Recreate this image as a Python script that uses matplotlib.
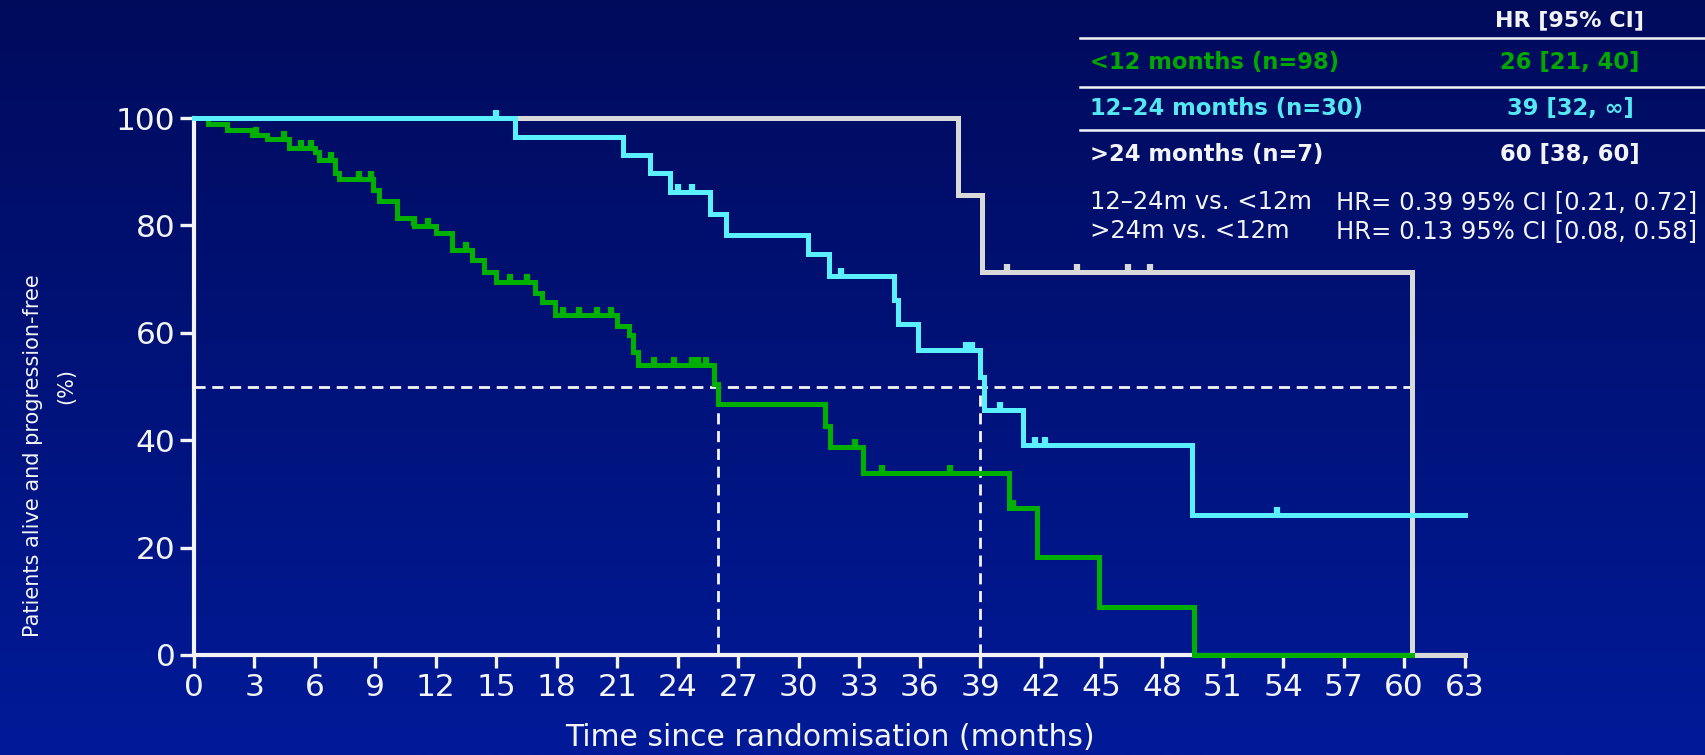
import numpy as np
import matplotlib
matplotlib.use("Agg")
import matplotlib.pyplot as plt
from matplotlib.lines import Line2D
from matplotlib.colors import LinearSegmentedColormap

# Kaplan-Meier steps: event times (months) and survival (%) after each step
lt12_times = [0, 0.72, 1.63, 2.87, 3.65, 4.7, 6.0, 6.2, 7.0, 7.2, 8.9, 9.2, 10.1, 10.9,
              12.0, 12.8, 13.8, 14.4, 15.0, 16.9, 17.25, 17.9, 21.0, 21.6, 21.8, 22.0,
              25.8, 26.0, 31.27, 31.55, 33.2, 40.4, 41.8, 44.9, 49.6]
lt12_surv = [100, 98.8, 97.7, 96.9, 96.1, 94.4, 93.6, 92.2, 89.8, 88.6, 86.6, 84.5, 81.4, 79.8,
             78.6, 75.5, 73.6, 71.4, 69.4, 67.4, 65.8, 63.4, 61.2, 59.6, 56.5, 54.0,
             50.5, 46.7, 42.7, 38.8, 33.8, 27.3, 18.2, 9.0, 0]
lt12_end = 60.4
lt12_cens = [3.1, 4.5, 5.3, 5.8, 6.8, 8.2, 8.8, 10.9, 11.6, 13.5, 15.7, 16.5, 18.3, 19.1,
             20.0, 20.7, 22.8, 23.8, 24.7, 25.0, 25.4, 32.8, 34.1, 37.5, 40.6]

mid_times = [0, 15.94, 21.3, 22.6, 23.6, 25.6, 26.4, 30.46, 31.5, 34.7, 34.9, 35.9,
             39.0, 39.2, 41.1, 49.5]
mid_surv = [100, 96.5, 93.1, 89.7, 86.2, 82.1, 78.2, 74.6, 70.6, 66.2, 61.7, 56.8,
            51.8, 45.6, 39.1, 26.1]
mid_end = 63
mid_cens = [15.0, 24.0, 24.7, 32.1, 38.3, 38.6, 39.95, 41.7, 42.2, 53.7]

gt24_times = [0, 37.9, 39.1, 60.4]
gt24_surv = [100, 85.7, 71.4, 0]
gt24_end = 63
gt24_cens = [40.3, 43.8, 46.3, 47.4]

medians = [26, 39, 60.4]

row_labels = ["<12 months (n=98)", "12\u201324 months (n=30)", ">24 months (n=7)"]
row_values = ["26 [21, 40]", "39 [32, \u221e]", "60 [38, 60]"]
hr_left = ["12\u201324m vs. <12m", ">24m vs. <12m"]
hr_right = ["HR= 0.39 95% CI [0.21, 0.72]", "HR= 0.13 95% CI [0.08, 0.58]"]

GREEN = "#00b000"
CYAN = "#5af0ff"
GREY = "#d9d9d9"
WHITE = "#f4f4f8"

W, H = 1706, 755
fig = plt.figure(figsize=(W / 100, H / 100), dpi=100)

# navy gradient background
bg = fig.add_axes([0, 0, 1, 1], zorder=-10)
cmap = LinearSegmentedColormap.from_list("navy", ["#000b5c", "#001a98"])
bg.imshow(np.linspace(0, 1, 256)[:, None], aspect="auto", cmap=cmap,
          extent=[0, 1, 0, 1], origin="upper")
bg.axis("off")

ax = fig.add_axes([193.7 / W, 1 - 655 / H, (1464.6 - 193.7) / W, (655 - 118) / H])
ax.set_facecolor("none")
ax.set_xlim(0, 63)
ax.set_ylim(0, 100)


def km(times, surv, end, cens, color, z):
    t = list(times) + [end]
    s = list(surv) + [surv[-1]]
    ax.step(t, s, where="post", color=color, lw=3.6, zorder=z, clip_on=False,
            solid_joinstyle="miter")
    idx = np.searchsorted(times, cens, side="right") - 1
    ax.plot(cens, np.array(surv)[idx], ls="none", marker=2, ms=6, mew=4.5,
            color=color, zorder=z, clip_on=False)


# median reference lines
dash = dict(color=WHITE, lw=2.0, ls=(0, (4, 2.4)), zorder=2.8, clip_on=False)
ax.plot([0, medians[2]], [50, 50], **dash)
for m in medians[:2]:
    ax.plot([m, m], [0, 50], **dash)

km(gt24_times, gt24_surv, gt24_end, gt24_cens, GREY, 3)
km(lt12_times, lt12_surv, lt12_end, lt12_cens, GREEN, 4)
km(mid_times, mid_surv, mid_end, mid_cens, CYAN, 5)

for side in ["top", "right"]:
    ax.spines[side].set_visible(False)
for side in ["left", "bottom"]:
    ax.spines[side].set_color(WHITE)
    ax.spines[side].set_linewidth(3)
ax.set_xticks(np.arange(0, 64, 3))
ax.set_yticks(np.arange(0, 101, 20))
ax.tick_params(axis="both", colors=WHITE, width=2.4, labelsize=22.5)
ax.tick_params(axis="y", length=10, pad=3)
ax.tick_params(axis="x", length=9, pad=4)

fig.text(33 / W, 1 - 456 / H, "Patients alive and progression-free", rotation=90,
         ha="center", va="center", color=WHITE, fontsize=15)
fig.text(66 / W, 1 - 386 / H, "(%)", rotation=90,
         ha="center", va="center", color=WHITE, fontsize=15)
fig.text(830 / W, 1 - 738 / H, "Time since randomisation (months)",
         ha="center", va="center", color=WHITE, fontsize=21.5)

# summary table, top right
fig.text(1570 / W, 1 - 20 / H, "HR [95% CI]", ha="center", va="center",
         color=WHITE, fontsize=16, fontweight="bold")
row_y = [62, 108, 154]
row_colors = ["#00a800", "#55e8f2", WHITE]
for y, lab, val, c in zip(row_y, row_labels, row_values, row_colors):
    fig.text(1090 / W, 1 - y / H, lab, ha="left", va="center", color=c,
             fontsize=16.3, fontweight="bold")
    fig.text(1570 / W, 1 - y / H, val, ha="center", va="center", color=c,
             fontsize=16.3, fontweight="bold")
for y in [38, 87, 130]:
    fig.add_artist(Line2D([1080 / W, 1], [1 - y / H, 1 - y / H], color=WHITE, lw=1.8))
for y, l, r in zip([202, 231], hr_left, hr_right):
    fig.text(1090 / W, 1 - y / H, l, ha="left", va="center", color=WHITE, fontsize=17.5)
    fig.text(1697 / W, 1 - y / H, r, ha="right", va="center", color=WHITE, fontsize=17.5)

fig.savefig("out.png", dpi=100)
